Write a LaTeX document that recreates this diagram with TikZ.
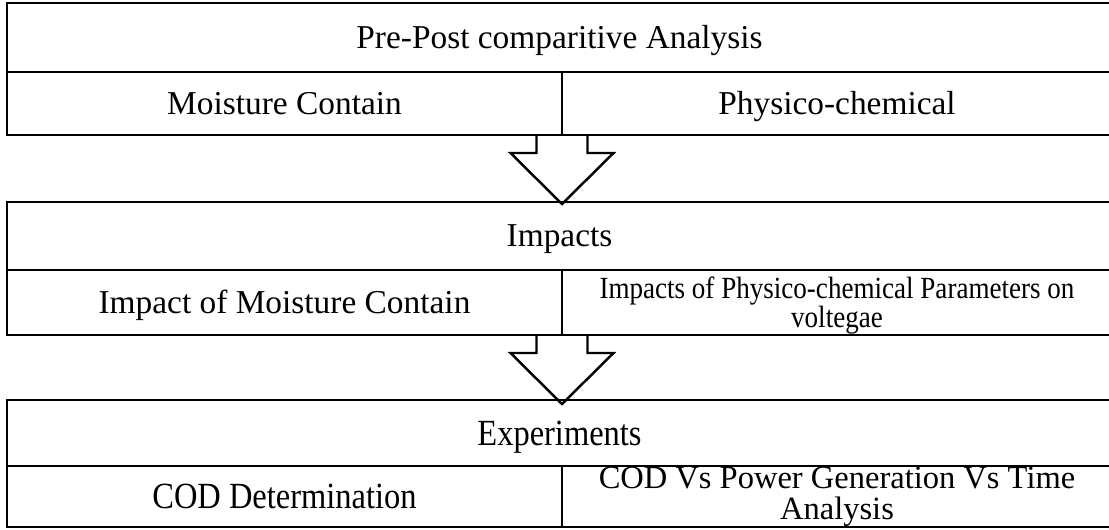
\documentclass[tikz,border=0pt]{standalone}
\usepackage{fontspec}
\setmainfont{Liberation Serif}
\newfontfamily\condfont[FakeStretch=0.88]{Liberation Serif}
\usetikzlibrary{positioning}

\begin{document}
\begin{tikzpicture}[
	cell/.style={draw, rectangle, line width=1.6pt, inner sep=0pt, outer sep=0pt, align=center, font=\fontsize{19}{21}\selectfont, text height=12.5pt, text depth=0pt},
	condcell/.style={cell, font=\condfont\fontsize{21}{23}\selectfont, text height=13.9pt},
	blockarrow/.style={draw, line width=1.4pt}]
	
	\useasboundingbox (0,0) rectangle (22.18,-10.58);
	
	% Block 1
	\node [cell, anchor=north west, minimum width=22.1cm, minimum height=1.38cm] (prepost) at (0.14,-0.06) {Pre-Post comparitive Analysis};
	\node [cell, anchor=north west, minimum width=11.1cm, minimum height=1.26cm] (moist) at (prepost.south west) {Moisture Contain};
	\node [cell, right=0pt of moist, minimum width=11.0cm, minimum height=1.26cm] (physchem) {Physico-chemical};
	
	% Block 2
	\node [cell, below=1.34cm of moist.south west, anchor=north west, minimum width=22.1cm, minimum height=1.36cm] (impacts) {Impacts};
	\node [cell, anchor=north west, minimum width=11.1cm, minimum height=1.3cm] (impmoist) at (impacts.south west) {Impact of Moisture Contain};
	\node [cell, right=0pt of impmoist, minimum width=11.0cm, minimum height=1.3cm, font=\condfont\fontsize{17.5}{15.3}\selectfont, text height=5.9pt, text depth=11pt] (impphys) {\parbox[t]{10.9cm}{\centering Impacts of Physico-chemical Parameters on\\voltegae}};
	
	% Block 3
	\node [condcell, below=1.3cm of impmoist.south west, anchor=north west, minimum width=22.1cm, minimum height=1.32cm] (experiments) {Experiments};
	\node [condcell, anchor=north west, minimum width=11.1cm, minimum height=1.22cm] (coddet) at (experiments.south west) {COD Determination};
	\node [condcell, right=0pt of coddet, minimum width=11.0cm, minimum height=1.22cm, font=\fontsize{18.5}{18}\selectfont, text height=4.4pt, text depth=14pt] (codpower) {\parbox[t]{10.9cm}{\centering COD Vs Power Generation Vs Time\\Analysis}};
	
	% Hollow arrows between blocks
	\draw[blockarrow] (moist.south east) ++(-0.51,0) -- ++(0,-0.36) -- ++(-0.52,0) -- ++(1.03,-1.02) -- ++(1.03,1.02) -- ++(-0.52,0) -- ++(0,0.36);
	\draw[blockarrow] (impmoist.south east) ++(-0.51,0) -- ++(0,-0.36) -- ++(-0.52,0) -- ++(1.03,-1.02) -- ++(1.03,1.02) -- ++(-0.52,0) -- ++(0,0.36);
	
\end{tikzpicture}
\end{document}
